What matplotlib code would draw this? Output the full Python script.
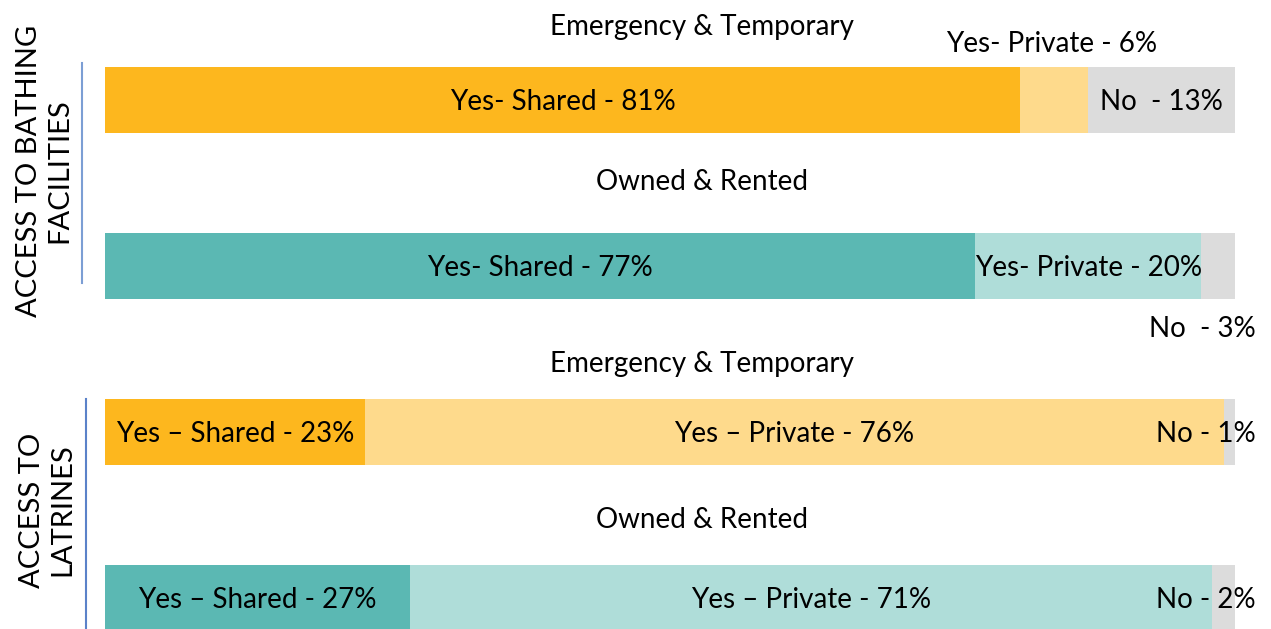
import matplotlib.pyplot as plt

plt.rcParams['font.family'] = ['Lato', 'DejaVu Sans']

# data
groups = ["Emergency & Temporary", "Owned & Rented", "Emergency & Temporary", "Owned & Rented"]
shared = [81, 77, 23, 27]
private = [6, 20, 76, 71]
no = [13, 3, 1, 2]
shared_lbl = ["Yes- Shared - 81%", "Yes- Shared - 77%", "Yes \u2013 Shared - 23%", "Yes \u2013 Shared - 27%"]
private_lbl = ["Yes- Private - 6%", "Yes- Private - 20%", "Yes \u2013 Private - 76%", "Yes \u2013 Private - 71%"]
no_lbl = ["No  - 13%", "No  - 3%", "No - 1%", "No - 2%"]
sections = ["ACCESS TO BATHING\nFACILITIES", "ACCESS TO\nLATRINES"]

dark = ["#FDB71E", "#5BB8B3", "#FDB71E", "#5BB8B3"]
light = ["#FEDA8C", "#AFDDD9", "#FEDA8C", "#AFDDD9"]
grey = "#DCDCDC"

W, H = 1271, 629
fig = plt.figure(figsize=(W / 100, H / 100), dpi=100)
ax = fig.add_axes([105 / W, 0, 1130 / W, 1])
# y in units of bar spacing (166 px), bar 0 centred at 100 px
ax.set_ylim((H - 100) / 166, -100 / 166)
ax.set_xlim(0, 100)
ax.axis('off')

fs = 20
dy = 0.012  # small nudge so caps sit centred like the original
ys = range(len(shared))
ax.barh(ys, shared, height=0.4, color=dark)
ax.barh(ys, private, left=shared, height=0.4, color=light)
left3 = [s + p for s, p in zip(shared, private)]
ax.barh(ys, no, left=left3, height=0.4, color=grey)

title_off = [-0.45, -0.52, -0.42, -0.48]
for i in ys:
    ax.text(52.8, i + title_off[i] + dy, groups[i], ha='center', va='center', fontsize=fs)
    ax.text(shared[i] / 2, i + dy, shared_lbl[i], ha='center', va='center', fontsize=fs)

# private labels
ax.text(83.8, 0 - 0.35 + dy, private_lbl[0], ha='center', va='center', fontsize=fs)
for i in [1, 2, 3]:
    ax.text(shared[i] + private[i] / 2, i + dy, private_lbl[i], ha='center', va='center', fontsize=fs)

# no labels
ax.text(left3[0] + no[0] / 2, 0 + dy, no_lbl[0], ha='center', va='center', fontsize=fs)
ax.text(101.8, 1 + 0.37 + dy, no_lbl[1], ha='right', va='center', fontsize=fs)
for i in [2, 3]:
    ax.text(101.8, i + dy, no_lbl[i], ha='right', va='center', fontsize=fs)

# section labels and separator lines
fig.text(44 / W, 1 - 171 / H, sections[0], rotation=90, ha='center', va='center',
         fontsize=21, multialignment='center', linespacing=1.2)
fig.text(47 / W, 1 - 510 / H, sections[1], rotation=90, ha='center', va='center',
         fontsize=21, multialignment='center', linespacing=1.2)
fig.add_artist(plt.Line2D([82 / W, 82 / W], [1 - 63 / H, 1 - 283 / H], color="#7C9ED4", lw=1.5))
fig.add_artist(plt.Line2D([86 / W, 86 / W], [1 - 399 / H, 0], color="#5B82C9", lw=1.5))

fig.savefig("out.png", dpi=100)
